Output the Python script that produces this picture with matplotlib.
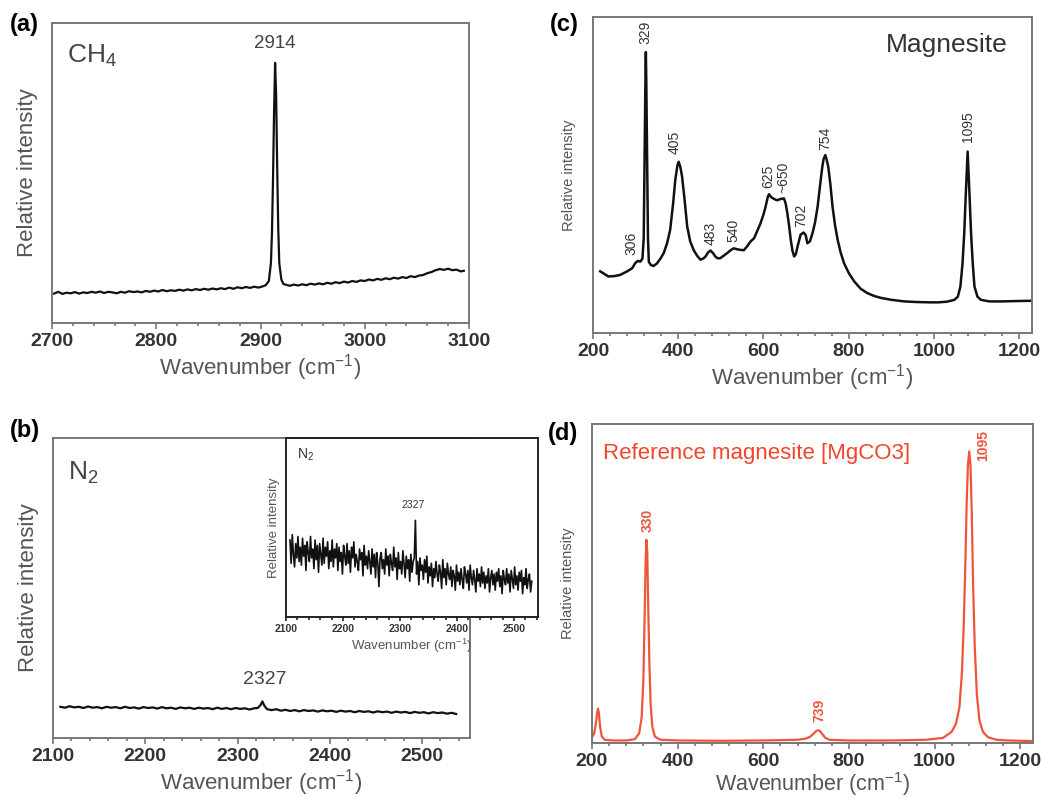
import matplotlib
matplotlib.use('Agg')
import matplotlib.pyplot as plt
from matplotlib.ticker import MultipleLocator

plt.rcParams['font.family'] = ['Liberation Sans', 'DejaVu Sans']
plt.rcParams['mathtext.fontset'] = 'custom'
plt.rcParams['mathtext.rm'] = 'Liberation Sans'
plt.rcParams['mathtext.it'] = 'Liberation Sans:italic'
plt.rcParams['mathtext.bf'] = 'Liberation Sans:bold'

# (a) CH4 spectrum (relative intensity, 0-1 of the frame height)
ch4_wn = [
    2702, 2706, 2710, 2714, 2718, 2722, 2726, 2730, 2734, 2738,
    2742, 2746, 2750, 2754, 2758, 2762, 2766, 2770, 2774, 2778,
    2782, 2786, 2790, 2794, 2798, 2802, 2806, 2810, 2814, 2818,
    2822, 2826, 2830, 2834, 2838, 2842, 2846, 2850, 2854, 2858,
    2862, 2866, 2870, 2874, 2878, 2882, 2886, 2890, 2894, 2898,
    2902, 2905, 2908, 2910, 2911, 2912, 2913, 2914, 2915, 2916,
    2917, 2918, 2920, 2922, 2925, 2928, 2932, 2936, 2940, 2944,
    2948, 2952, 2956, 2960, 2964, 2968, 2972, 2976, 2980, 2984,
    2988, 2992, 2996, 3000, 3004, 3008, 3012, 3016, 3020, 3024,
    3028, 3032, 3036, 3040, 3044, 3048, 3052, 3056, 3060, 3064,
    3068, 3072, 3076, 3080, 3084, 3088, 3092, 3095]
ch4_int = [
    .098, .104, .097, .101, .099, .103, .098, .102, .100, .104,
    .101, .105, .100, .104, .102, .099, .104, .101, .106, .103,
    .105, .102, .107, .104, .108, .105, .110, .106, .109, .107,
    .111, .108, .112, .109, .113, .110, .114, .111, .115, .112,
    .116, .113, .118, .114, .119, .116, .120, .117, .121, .118,
    .122, .126, .140, .200, .300, .480, .700, .867, .760, .520,
    .320, .200, .145, .130, .127, .124, .128, .125, .129, .126,
    .131, .128, .132, .129, .134, .131, .136, .133, .138, .135,
    .140, .137, .142, .140, .145, .142, .147, .144, .149, .146,
    .151, .148, .153, .150, .156, .153, .158, .160, .166, .170,
    .176, .180, .177, .181, .176, .178, .172, .174]

# (b) N2 spectrum, main frame
n2_wn = [
    2108, 2113, 2118, 2123, 2128, 2133, 2138, 2143, 2148, 2153,
    2158, 2163, 2168, 2173, 2178, 2183, 2188, 2193, 2198, 2203,
    2208, 2213, 2218, 2223, 2228, 2233, 2238, 2243, 2248, 2253,
    2258, 2263, 2268, 2273, 2278, 2283, 2288, 2293, 2298, 2303,
    2308, 2313, 2318, 2322, 2325, 2327, 2329, 2332, 2337, 2342,
    2347, 2352, 2357, 2362, 2367, 2372, 2377, 2382, 2387, 2392,
    2397, 2402, 2407, 2412, 2417, 2422, 2427, 2432, 2437, 2442,
    2447, 2452, 2457, 2462, 2467, 2472, 2477, 2482, 2487, 2492,
    2497, 2502, 2507, 2512, 2517, 2522, 2527, 2532, 2537]
n2_int = [
    .104, .101, .106, .102, .104, .100, .105, .101, .103, .099,
    .104, .101, .103, .099, .104, .100, .102, .098, .103, .100,
    .102, .098, .103, .099, .101, .097, .102, .099, .101, .097,
    .101, .098, .100, .096, .101, .097, .100, .096, .100, .097,
    .099, .095, .099, .100, .110, .122, .108, .096, .093, .096,
    .091, .094, .090, .093, .089, .093, .090, .092, .088, .092,
    .089, .091, .087, .091, .088, .090, .086, .090, .087, .089,
    .085, .089, .086, .088, .084, .088, .085, .087, .083, .087,
    .084, .086, .082, .086, .083, .085, .081, .084, .080]

# (b) N2 spectrum, zoomed inset
n2_inset_wn = [
    2107, 2109, 2111, 2113, 2115, 2117, 2119, 2121, 2123, 2125,
    2127, 2129, 2131, 2133, 2135, 2137, 2139, 2141, 2143, 2145,
    2147, 2149, 2151, 2153, 2155, 2157, 2159, 2161, 2163, 2165,
    2167, 2169, 2171, 2173, 2175, 2177, 2179, 2181, 2183, 2185,
    2187, 2189, 2191, 2193, 2195, 2197, 2199, 2201, 2203, 2205,
    2207, 2209, 2211, 2213, 2215, 2217, 2219, 2221, 2223, 2225,
    2227, 2229, 2231, 2233, 2235, 2237, 2239, 2241, 2243, 2245,
    2247, 2249, 2251, 2253, 2255, 2257, 2259, 2261, 2263, 2265,
    2267, 2269, 2271, 2273, 2275, 2277, 2279, 2281, 2283, 2285,
    2287, 2289, 2291, 2293, 2295, 2297, 2299, 2301, 2303, 2305,
    2307, 2309, 2311, 2313, 2315, 2317, 2319, 2321, 2323, 2325,
    2327, 2329, 2331, 2333, 2335, 2337, 2339, 2341, 2343, 2345,
    2347, 2349, 2351, 2353, 2355, 2357, 2359, 2361, 2363, 2365,
    2367, 2369, 2371, 2373, 2375, 2377, 2379, 2381, 2383, 2385,
    2387, 2389, 2391, 2393, 2395, 2397, 2399, 2401, 2403, 2405,
    2407, 2409, 2411, 2413, 2415, 2417, 2419, 2421, 2423, 2425,
    2427, 2429, 2431, 2433, 2435, 2437, 2439, 2441, 2443, 2445,
    2447, 2449, 2451, 2453, 2455, 2457, 2459, 2461, 2463, 2465,
    2467, 2469, 2471, 2473, 2475, 2477, 2479, 2481, 2483, 2485,
    2487, 2489, 2491, 2493, 2495, 2497, 2499, 2501, 2503, 2505,
    2507, 2509, 2511, 2513, 2515, 2517, 2519, 2521, 2523, 2525,
    2527, 2529, 2531]
n2_inset_int = [
    .43, .30, .46, .35, .28, .41, .33, .45, .31, .39,
    .29, .44, .34, .40, .26, .42, .36, .31, .45, .33,
    .38, .27, .43, .32, .40, .25, .41, .35, .29, .44,
    .30, .39, .34, .42, .27, .37, .31, .43, .28, .38,
    .33, .41, .26, .39, .31, .36, .24, .40, .34, .29,
    .41, .30, .37, .25, .39, .33, .42, .28, .35, .31,
    .26, .38, .32, .36, .23, .40, .29, .34, .27, .37,
    .31, .24, .38, .28, .35, .22, .36, .30, .17, .33,
    .36, .27, .32, .24, .38, .29, .34, .23, .35, .30,
    .26, .39, .28, .33, .21, .36, .27, .31, .24, .37,
    .30, .22, .34, .27, .32, .20, .35, .25, .31, .33,
    .54, .24, .31, .18, .33, .26, .29, .21, .32, .25,
    .34, .19, .28, .23, .30, .17, .27, .22, .31, .24,
    .20, .29, .25, .16, .32, .22, .27, .18, .30, .24,
    .21, .28, .17, .26, .23, .15, .29, .20, .25, .18,
    .27, .21, .16, .28, .24, .19, .26, .15, .29, .22,
    .18, .26, .21, .14, .27, .20, .24, .17, .28, .19,
    .25, .16, .23, .19, .27, .14, .22, .26, .18, .24,
    .15, .25, .20, .27, .17, .23, .13, .26, .21, .18,
    .27, .19, .24, .14, .26, .21, .16, .28, .18, .23,
    .15, .25, .20, .26, .13, .22, .18, .27, .16, .21,
    .24, .14, .20]

# (c) magnesite sample spectrum
mag_wn = [
    217, 236, 250, 264, 280, 292, 299, 305, 311, 316,
    319, 321, 323, 324, 325, 327, 329, 331, 336, 342,
    350, 358, 366, 374, 381, 388, 393, 398, 401, 405,
    409, 415, 421, 428, 436, 444, 452, 459, 464, 470,
    476, 482, 487, 493, 499, 507, 515, 523, 530, 538,
    546, 554, 562, 570, 578, 586, 593, 600, 605, 610,
    613, 618, 625, 632, 640, 648, 652, 656, 660, 664,
    668, 672, 676, 680, 687, 694, 699, 703, 709, 715,
    721, 727, 733, 738, 741, 745, 748, 752, 757, 762,
    768, 774, 781, 789, 800, 813, 828, 844, 860, 876,
    900, 930, 960, 990, 1010, 1030, 1048, 1056, 1062, 1067,
    1071, 1075, 1079, 1083, 1087, 1091, 1095, 1102, 1110, 1130,
    1160, 1190, 1229]
mag_int = [
    .195, .179, .180, .184, .195, .205, .221, .228, .226, .235,
    .300, .550, .800, .889, .800, .550, .300, .225, .215, .212,
    .220, .235, .253, .285, .326, .410, .484, .530, .542, .525,
    .495, .420, .337, .290, .263, .245, .232, .236, .242, .255,
    .261, .252, .242, .236, .237, .245, .253, .262, .268, .265,
    .263, .262, .275, .290, .300, .325, .347, .375, .400, .430,
    .439, .430, .424, .420, .424, .426, .410, .379, .340, .295,
    .260, .242, .250, .274, .311, .318, .310, .284, .290, .316,
    .350, .400, .470, .526, .550, .563, .550, .526, .470, .400,
    .340, .295, .255, .221, .190, .163, .140, .126, .117, .111,
    .105, .100, .098, .097, .097, .099, .105, .115, .147, .220,
    .316, .450, .574, .450, .316, .220, .147, .115, .105, .100,
    .100, .101, .102]
mag_peaks = ['306', '329', '405', '483', '540', '625', '~650', '702', '754', '1095']
mag_peak_wn = [291, 324, 392, 476, 529, 612, 647, 688, 745, 1079]
mag_peak_y = [.247, .916, .568, .279, .289, .458, .442, .337, .579, .605]

# (d) reference magnesite spectrum
ref_wn = [
    201, 205, 209, 212, 214, 216, 219, 223, 230, 250,
    280, 300, 310, 316, 320, 323, 325, 327, 329, 331,
    334, 337, 341, 347, 360, 400, 500, 600, 680, 700,
    710, 718, 724, 728, 732, 738, 745, 755, 800, 900,
    980, 1020, 1040, 1050, 1058, 1064, 1068, 1072, 1075, 1078,
    1081, 1084, 1087, 1090, 1094, 1099, 1105, 1113, 1125, 1145,
    1170, 1230]
ref_int = [
    .020, .030, .060, .095, .108, .095, .050, .020, .010, .008,
    .008, .012, .030, .080, .200, .400, .550, .637, .600, .450,
    .250, .120, .050, .020, .010, .008, .007, .008, .010, .014,
    .020, .030, .038, .040, .038, .028, .016, .010, .008, .008,
    .010, .016, .035, .060, .110, .220, .360, .560, .750, .870,
    .914, .870, .720, .500, .300, .150, .070, .035, .018, .010,
    .008, .006]
ref_peaks = ['330', '739', '1095']
ref_peak_wn = [331, 730, 1114]
ref_peak_y = [.663, .066, .883]

W, H = 1042, 798
GRAY = '#777777'
RED = '#f0553c'


def px_axes(fig, left, top, right, bottom):
    # place an axes by its pixel box in the 1042x798 figure
    return fig.add_axes([left / W, 1 - bottom / H, (right - left) / W, (bottom - top) / H])


def style_axes(ax, xlim, ticks, minor, tick_size, xlabel_size, ylabel_size,
               spine_color=GRAY, ylabel_pad=10, xlabel_pad=2):
    ax.set_xlim(*xlim)
    ax.set_ylim(0, 1)
    ax.set_xticks(ticks, [str(t) for t in ticks], fontweight='bold')
    ax.xaxis.set_minor_locator(MultipleLocator(minor))
    ax.set_yticks([])
    ax.tick_params(axis='x', which='major', direction='out', length=4, width=1.2,
                   color=spine_color, labelsize=tick_size, labelcolor='#333333', pad=3)
    ax.tick_params(axis='x', which='minor', direction='out', length=2.5, width=1.2,
                   color=spine_color)
    for s in ax.spines.values():
        s.set_color(spine_color)
        s.set_linewidth(1.4)
    ax.set_xlabel('Wavenumber (cm$^{-1}$)', fontsize=xlabel_size, color='#555555',
                  labelpad=xlabel_pad)
    ax.set_ylabel('Relative intensity', fontsize=ylabel_size, color='#555555', labelpad=ylabel_pad)


def main() -> None:
    fig = plt.figure(figsize=(W / 100, H / 100), dpi=100)

    # (a) CH4
    ax_a = px_axes(fig, 52, 23, 469, 323)
    ax_a.plot(ch4_wn, ch4_int, color='#111111', lw=1.6)
    style_axes(ax_a, (2700, 3100), [2700, 2800, 2900, 3000, 3100], 20, 14, 16, 16)
    ax_a.text(0.036, 0.935, 'CH$_4$', transform=ax_a.transAxes, fontsize=19,
              color='#444444', va='top', ha='left')
    ax_a.text(2914, 0.905, '2914', fontsize=13.5, color='#444444', ha='center', va='bottom')

    # (b) N2
    ax_b = px_axes(fig, 53, 438, 470, 738)
    ax_b.plot(n2_wn, n2_int, color='#111111', lw=1.6)
    style_axes(ax_b, (2100, 2552), [2100, 2200, 2300, 2400, 2500], 20, 14, 16, 16)
    ax_b.text(0.036, 0.927, 'N$_2$', transform=ax_b.transAxes, fontsize=19,
              color='#444444', va='top', ha='left')
    ax_b.text(2330, 0.167, '2327', fontsize=14, color='#444444', ha='center', va='bottom')

    # inset of (b)
    ax_i = px_axes(fig, 286, 438, 538, 617)
    ax_i.set_facecolor('white')
    ax_i.plot(n2_inset_wn, n2_inset_int, color='#111111', lw=1.2)
    style_axes(ax_i, (2100, 2542), [2100, 2200, 2300, 2400, 2500], 20, 7.5, 9.5, 9.5,
               spine_color='#222222', ylabel_pad=4)
    ax_i.tick_params(axis='x', which='major', length=3, pad=2)
    ax_i.tick_params(axis='x', which='minor', length=2)
    ax_i.text(0.045, 0.95, 'N$_2$', transform=ax_i.transAxes, fontsize=10,
              color='#333333', va='top', ha='left')
    ax_i.text(2323, 0.6, '2327', fontsize=7.5, color='#333333', ha='center', va='bottom')

    # (c) magnesite
    ax_c = px_axes(fig, 593, 17, 1032, 333)
    ax_c.plot(mag_wn, mag_int, color='#111111', lw=1.8)
    style_axes(ax_c, (200, 1230), [200, 400, 600, 800, 1000, 1200], 40, 14, 16, 10.5,
               ylabel_pad=12)
    for lab, x, y in zip(mag_peaks, mag_peak_wn, mag_peak_y):
        ax_c.text(x, y, lab, rotation=90, fontsize=10, color='#333333',
                  ha='center', va='bottom')
    ax_c.text(0.945, 0.95, 'Magnesite', transform=ax_c.transAxes, fontsize=19,
              color='#333333', ha='right', va='top')

    # (d) reference magnesite
    ax_d = px_axes(fig, 592, 424, 1033, 743)
    ax_d.plot(ref_wn, ref_int, color=RED, lw=1.6)
    style_axes(ax_d, (200, 1230), [200, 400, 600, 800, 1000, 1200], 40, 14, 15.5, 10.5,
               ylabel_pad=12, xlabel_pad=0)
    for lab, x, y in zip(ref_peaks, ref_peak_wn, ref_peak_y):
        ax_d.text(x, y, lab, rotation=90, fontsize=10, fontweight='bold', color=RED,
                  ha='center', va='bottom')
    ax_d.text(0.025, 0.94, 'Reference magnesite [MgCO3]', transform=ax_d.transAxes,
              fontsize=16, color='#f2452c', ha='left', va='top')

    # panel letters
    for lab, x, y in [('(a)', 10, 25), ('(b)', 10, 430), ('(c)', 550, 25), ('(d)', 548, 433)]:
        fig.text(x / W, 1 - y / H, lab, fontsize=17, fontweight='bold', va='center', ha='left')

    fig.savefig('out.png', dpi=100)


if __name__ == '__main__':
    main()
